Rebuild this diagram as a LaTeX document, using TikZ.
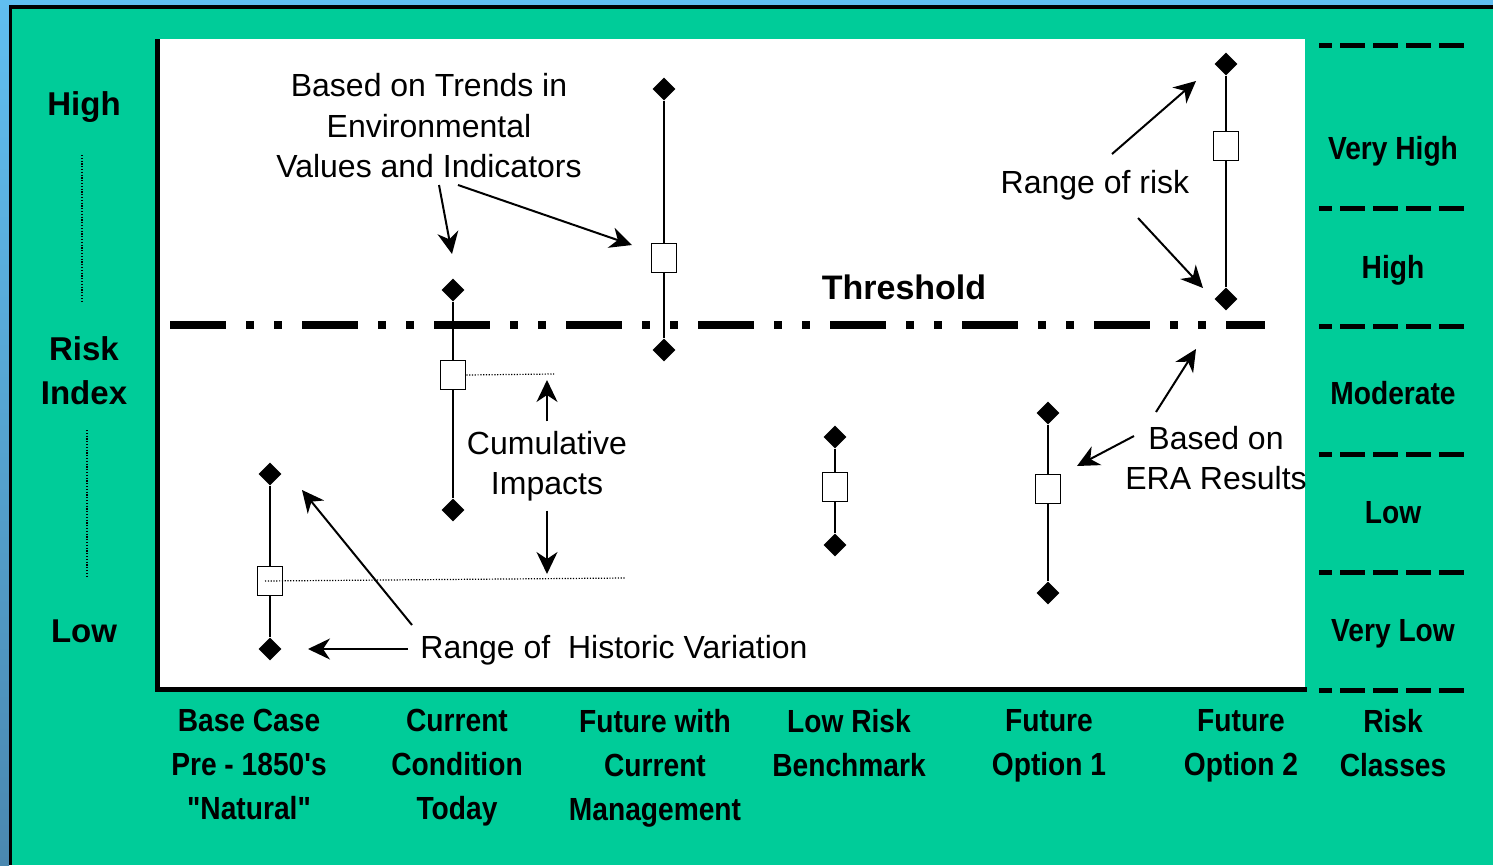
\documentclass[tikz,border=0pt]{standalone}
\usepackage{fontspec}
\setmainfont{Liberation Sans}
\newfontfamily\narrowfont[FakeStretch=0.88]{Liberation Sans}
\usetikzlibrary{shapes.geometric, arrows.meta}
\definecolor{slidegreen}{RGB}{0,204,153}
\definecolor{framelight}{RGB}{96,190,240}
\definecolor{framedark}{RGB}{74,136,176}
\tikzset{
  >={Stealth[length=22pt, width=21pt, inset=7pt]},
  endmark/.style={diamond, fill=black, inner sep=0pt, minimum size=23pt},
  midmark/.style={draw, line width=1.6pt, fill=white, inner sep=0pt, minimum width=25pt, minimum height=29pt},
  rangeline/.style={line width=2pt},
  note/.style={font=\fontsize{32}{40.5}\selectfont, align=center},
  axislabel/.style={font=\bfseries\fontsize{33}{44}\selectfont, align=center},
  cls/.style={font=\narrowfont\bfseries\fontsize{32}{44}\selectfont, align=center},
  scenario/.style={cls, anchor=north},
  pointer/.style={->, line width=2pt},
  refline/.style={line width=1.2pt, dash pattern=on 1.2pt off 1.6pt},
  classline/.style={line width=5pt, dash pattern=on 25pt off 8pt, dash phase=12pt},
  thresholdline/.style={line width=8pt, dash pattern=on 56pt off 20pt on 8pt off 20pt on 8pt off 20pt},
}

\begin{document}
\begin{tikzpicture}[x=1pt, y=-1pt]
  \useasboundingbox (0,0) rectangle (1493,865);

  % slide background
  \fill[slidegreen] (0,0) rectangle (1493,865);
  \fill[framelight] (0,0) rectangle (1493,5);
  \shade[top color=framelight, bottom color=framedark] (0,0) rectangle (9,865);
  \fill[black] (9,5) rectangle (1493,9);
  \fill[black] (9,5) rectangle (12,865);

  % plot area
  \fill[white] (157,39) rectangle (1305,688);
  \draw[line width=5pt] (157,39) -- (157,689) -- (1307,689);

  % risk index axis
  \node[axislabel] (high) at (84,107) {High};
  \node[axislabel] (index) at (84,371) {Risk\\Index};
  \node[axislabel] (low) at (84,631) {Low};
  \draw[refline, line width=1.5pt] (82,155) -- (82,303);
  \draw[refline, line width=1.5pt] (87,430) -- (87,578);

  % risk classes
  \draw[classline] (1319,45) -- (1465,45);
  \draw[classline] (1319,208) -- (1465,208);
  \draw[classline] (1319,326) -- (1465,326);
  \draw[classline] (1319,454) -- (1465,454);
  \draw[classline] (1319,572) -- (1465,572);
  \draw[classline] (1319,690) -- (1465,690);
  \node[cls] (veryhigh) at (1393,151) {Very High};
  \node[cls] (clshigh) at (1393,270) {High};
  \node[cls] (moderate) at (1393,393) {Moderate};
  \node[cls] (clslow) at (1393,513) {Low};
  \node[cls] (verylow) at (1393,634) {Very Low};

  % threshold
  \coordinate (thrL) at (170,325);
  \coordinate (thrR) at (1265,325);
  \draw[thresholdline] (thrL) -- (thrR);
  \node[axislabel, font=\bfseries\fontsize{34}{44}\selectfont] (thr) at (904,287) {Threshold};

  % ranges
  \node[endmark] (baset) at (270,474) {};
  \node[midmark] (basem) at (270,581) {};
  \node[endmark] (baseb) at (270,649) {};
  \draw[rangeline] (baset) -- (basem) -- (baseb);

  \node[endmark] (curt) at (453,290) {};
  \node[midmark] (curm) at (453,375) {};
  \node[endmark] (curb) at (453,510) {};
  \draw[rangeline] (curt) -- (curm) -- (curb);

  \node[endmark] (futt) at (664,89) {};
  \node[midmark] (futm) at (664,258) {};
  \node[endmark] (futb) at (664,350) {};
  \draw[rangeline] (futt) -- (futm) -- (futb);

  \node[endmark] (lowt) at (835,437) {};
  \node[midmark] (lowm) at (835,487) {};
  \node[endmark] (lowb) at (835,545) {};
  \draw[rangeline] (lowt) -- (lowm) -- (lowb);

  \node[endmark] (optAt) at (1048,413) {};
  \node[midmark] (optAm) at (1048,489) {};
  \node[endmark] (optAb) at (1048,593) {};
  \draw[rangeline] (optAt) -- (optAm) -- (optAb);

  \node[endmark] (optBt) at (1226,64) {};
  \node[midmark] (optBm) at (1226,146) {};
  \node[endmark] (optBb) at (1226,299) {};
  \draw[rangeline] (optBt) -- (optBm) -- (optBb);

  % cumulative impacts
  \coordinate (cumtop) at (554,374);
  \coordinate (cumbot) at (625,578);
  \draw[refline] (curm.east) -- (cumtop);
  \draw[refline] ([xshift=-5pt]basem.center) -- (cumbot);
  \node[note] (cum) at (547,466) {Cumulative\\Impacts};
  \coordinate (cumup) at (547,380);
  \coordinate (cumdown) at (547,574);
  \draw[pointer] ([yshift=6pt]cum.north) -- (cumup);
  \draw[pointer] ([yshift=-6pt]cum.south) -- (cumdown);

  % annotations
  \node[note] (trends) at (429,126) {Based on Trends in\\Environmental\\Values and Indicators};
  \coordinate (trendA) at (439,185);
  \coordinate (trendAend) at (452,254);
  \coordinate (trendB) at (458,185);
  \coordinate (trendBend) at (632,245);
  \draw[pointer] (trendA) -- (trendAend);
  \draw[pointer] (trendB) -- (trendBend);

  \node[note] (risk) at (1095,185) {Range of risk};
  \coordinate (riskA) at (1112,154);
  \coordinate (riskAend) at (1196,81);
  \coordinate (riskB) at (1138,218);
  \coordinate (riskBend) at (1203,288);
  \draw[pointer] (riskA) -- (riskAend);
  \draw[pointer] (riskB) -- (riskBend);

  \node[note] (era) at (1216,458) {Based on\\ERA Results};
  \coordinate (eraA) at (1156,412);
  \coordinate (eraAend) at (1196,349);
  \coordinate (eraB) at (1134,436);
  \coordinate (eraBend) at (1077,466);
  \draw[pointer] (eraA) -- (eraAend);
  \draw[pointer] (eraB) -- (eraBend);

  \node[note] (hist) at (614,650) {Range of\ \ Historic Variation};
  \coordinate (histA) at (408,649);
  \coordinate (histAend) at (308,649);
  \coordinate (histB) at (412,625);
  \coordinate (histBend) at (302,490);
  \draw[pointer] (histA) -- (histAend);
  \draw[pointer] (histB) -- (histBend);

  % scenarios
  \node[scenario] (base) at (249,706) {Base Case\\Pre - 1850's\\"Natural"};
  \node[scenario] (cur) at (457,706) {Current\\Condition\\Today};
  \node[scenario] (fut) at (655,706) {Future with\\Current\\Management};
  \node[scenario] (bench) at (849,706) {Low Risk\\Benchmark};
  \node[scenario] (optA) at (1049,706) {Future\\Option 1};
  \node[scenario] (optB) at (1241,706) {Future\\Option 2};
  \node[scenario] (classes) at (1393,706) {Risk\\Classes};
\end{tikzpicture}
\end{document}
